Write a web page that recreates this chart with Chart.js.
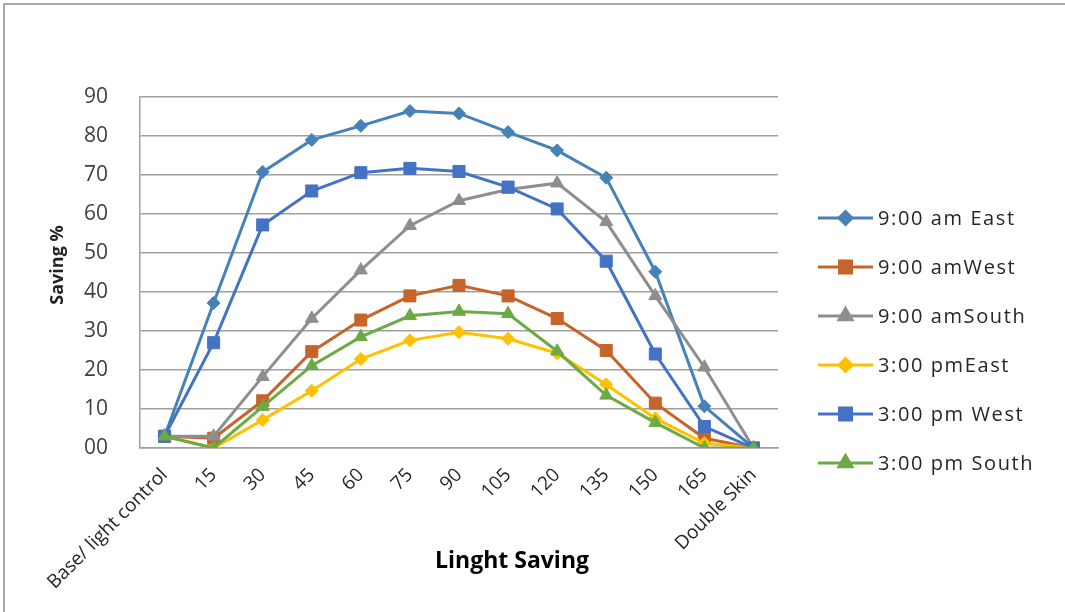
<!DOCTYPE html>
<html>
<head>
<meta charset="utf-8">
<script src="https://cdn.jsdelivr.net/npm/chart.js@4.4.1/dist/chart.umd.min.js"></script>
<style>
  html, body { margin: 0; padding: 0; background: #ffffff; }
  #wrap { position: relative; width: 1065px; height: 612px; }
</style>
</head>
<body>
<div id="wrap"><canvas id="chart" width="1065" height="612"></canvas></div>
<script>
// Facade tilt angles (degrees) plus the two reference cases
const categories = ['Base/ light control', '15', '30', '45', '60', '75', '90', '105', '120', '135', '150', '165', 'Double Skin'];

// Lighting energy saving (%) per orientation and time of day
const am9East  = [3, 37.2, 70.8, 79.0, 82.6, 86.4, 85.8, 81.0, 76.3, 69.3, 45.2, 10.7, 0];
const am9West  = [3, 2.5, 12.1, 24.7, 32.8, 39.0, 41.7, 39.0, 33.2, 25.0, 11.5, 2.5, 0];
const am9South = [3, 3.0, 18.3, 33.2, 45.6, 57.0, 63.4, 66.3, 67.9, 58.0, 39.0, 20.7, 0];
const pm3East  = [3, 0.0, 7.2, 14.7, 22.8, 27.6, 29.7, 28.0, 24.3, 16.3, 7.6, 1.2, 0];
const pm3West  = [3, 27.0, 57.2, 65.9, 70.6, 71.7, 70.9, 66.9, 61.3, 47.9, 24.1, 5.5, 0];
const pm3South = [3, 0.0, 10.6, 21.1, 28.5, 33.9, 35.0, 34.4, 24.8, 13.5, 6.5, 0, 0];

const seriesNames = ['9:00 am East', '9:00 amWest', '9:00 amSouth', '3:00 pmEast', '3:00 pm West', '3:00 pm South'];
const yTickLabels = ['00', '10', '20', '30', '40', '50', '60', '70', '80', '90'];
const xTitle = 'Linght Saving';
const yTitle = 'Saving %';

const seriesValues = [am9East, am9West, am9South, pm3East, pm3West, pm3South];
const colors = ['#4682B8', '#C6642A', '#8E8E8E', '#FFC000', '#4472C4', '#6BAA45'];
const markers = ['rectRot', 'rect', 'triangle', 'rectRot', 'rect', 'triangle'];
const markerSize = { rectRot: 6.5, rect: 8.5, triangle: 7.5 };

const FONT = "'Open Sans', 'Liberation Sans', sans-serif";

const datasets = seriesValues.map((vals, i) => ({
  label: seriesNames[i],
  data: vals,
  borderColor: colors[i],
  backgroundColor: colors[i],
  borderWidth: 3,
  pointStyle: markers[i],
  pointRadius: markerSize[markers[i]],
  pointHoverRadius: markerSize[markers[i]],
  pointBorderWidth: 1,
  pointBackgroundColor: colors[i],
  pointBorderColor: colors[i],
  tension: 0,
  order: seriesValues.length - i
}));

// Outer frame and white background
const framePlugin = {
  id: 'frame',
  beforeDraw(chart) {
    const ctx = chart.ctx;
    ctx.save();
    ctx.fillStyle = '#ffffff';
    ctx.fillRect(0, 0, chart.width, chart.height);
    ctx.strokeStyle = '#a9a9a9';
    ctx.lineWidth = 2;
    ctx.beginPath();
    ctx.moveTo(4, chart.height);
    ctx.lineTo(4, 4);
    ctx.lineTo(chart.width, 4);
    ctx.stroke();
    ctx.restore();
  }
};

// Axis titles
const titlePlugin = {
  id: 'axisTitles',
  afterDraw(chart) {
    const ctx = chart.ctx;
    ctx.save();
    ctx.fillStyle = '#000000';
    ctx.font = "bold 23px " + FONT;
    ctx.textAlign = 'center';
    ctx.textBaseline = 'middle';
    ctx.fillText(xTitle, 512, 561);

    ctx.translate(58, 265);
    ctx.rotate(-Math.PI / 2);
    ctx.fillStyle = '#222222';
    ctx.font = "bold 18px " + FONT;
    ctx.fillText(yTitle, 0, 0);
    ctx.restore();
  }
};

// Legend on the right: line segment with marker, then label
const legendPlugin = {
  id: 'lineLegend',
  afterDraw(chart) {
    const ctx = chart.ctx;
    const x0 = 818, x1 = 873, textX = 878, top = 218, gap = 49;
    ctx.save();
    chart.data.datasets.forEach((ds, i) => {
      const y = top + i * gap;
      ctx.strokeStyle = ds.borderColor;
      ctx.lineWidth = 3;
      ctx.beginPath();
      ctx.moveTo(x0, y);
      ctx.lineTo(x1, y);
      ctx.stroke();
      ctx.fillStyle = ds.backgroundColor;
      Chart.helpers.drawPoint(ctx, {
        pointStyle: ds.pointStyle,
        radius: ds.pointRadius,
        rotation: 0,
        borderWidth: 1
      }, (x0 + x1) / 2, y);
      ctx.fillStyle = '#262626';
      ctx.font = "20px " + FONT;
      ctx.letterSpacing = '1.6px';
      ctx.textAlign = 'left';
      ctx.textBaseline = 'middle';
      ctx.fillText(ds.label, textX, y + 1);
      ctx.letterSpacing = '0px';
    });
    ctx.restore();
  }
};

new Chart(document.getElementById('chart'), {
  type: 'line',
  data: { labels: categories, datasets },
  plugins: [framePlugin, titlePlugin, legendPlugin],
  options: {
    responsive: false,
    animation: false,
    events: [],
    layout: { padding: { top: 97, right: 287, left: 0, bottom: 0 } },
    plugins: {
      legend: { display: false },
      tooltip: { enabled: false },
      title: { display: false }
    },
    scales: {
      x: {
        offset: true,
        grid: { display: false, drawTicks: false },
        border: { display: true, color: '#a0a0a0', width: 1.5 },
        ticks: {
          color: '#262626',
          font: { family: FONT, size: 19 },
          minRotation: 45,
          maxRotation: 45,
          autoSkip: false,
          padding: 16
        },
        afterFit(scale) { scale.height = 612 - 448; }
      },
      y: {
        min: 0,
        max: 90,
        grid: { color: '#a0a0a0', lineWidth: 1.5, drawTicks: false },
        border: { display: true, color: '#a0a0a0', width: 1.5 },
        ticks: {
          stepSize: 10,
          color: '#404040',
          font: { family: FONT, size: 21 },
          padding: 32,
          callback: (v, i) => yTickLabels[i]
        },
        afterFit(scale) { scale.width = 140; }
      }
    }
  }
});
</script>
</body>
</html>
